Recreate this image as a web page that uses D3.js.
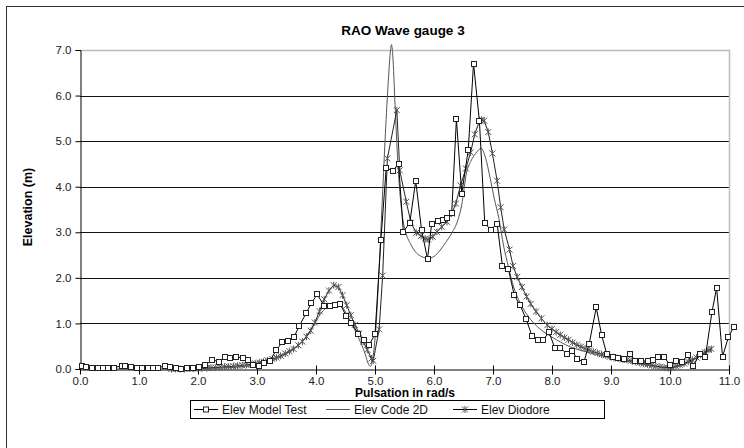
<!DOCTYPE html>
<html><head><meta charset="utf-8">
<script src="https://cdn.jsdelivr.net/npm/d3@7"></script>
<style>
body{margin:0;background:#fff;}
svg{display:block;}
text{font-family:"Liberation Sans",Arial,sans-serif;}
</style></head>
<body>
<svg id="c" width="744" height="448"></svg>
<script>
const title = "RAO Wave gauge 3";
const xTitle = "Pulsation in rad/s";
const yTitle = "Elevation (m)";
const xTicks = [0,1,2,3,4,5,6,7,8,9,10,11];
const yTicks = [0,1,2,3,4,5,6,7];
const seriesNames = ["Elev Model Test","Elev Code 2D","Elev Diodore"];

const modelX = [0.03,0.11,0.2,0.3,0.39,0.48,0.58,0.71,0.76,0.86,0.96,1.05,1.15,1.24,1.33,1.44,1.53,1.62,1.72,1.82,1.92,2.02,2.12,2.24,2.36,2.46,2.55,2.65,2.76,2.85,2.93,3.04,3.12,3.22,3.33,3.43,3.53,3.63,3.72,3.83,3.92,4.02,4.14,4.23,4.32,4.41,4.51,4.6,4.72,4.81,4.9,5.0,5.1,5.19,5.3,5.4,5.48,5.59,5.69,5.79,5.89,5.96,6.07,6.16,6.22,6.3,6.38,6.47,6.58,6.67,6.77,6.86,6.96,7.07,7.16,7.26,7.36,7.46,7.56,7.66,7.77,7.85,7.95,8.05,8.14,8.26,8.34,8.43,8.54,8.63,8.75,8.84,8.93,9.03,9.12,9.22,9.32,9.41,9.5,9.62,9.71,9.8,9.9,10.0,10.1,10.2,10.3,10.39,10.5,10.6,10.71,10.79,10.89,10.99,11.08];
const modelY = [0.07,0.05,0.03,0.03,0.03,0.03,0.03,0.07,0.07,0.04,0.03,0.03,0.03,0.03,0.03,0.07,0.05,0.02,0.01,0.02,0.03,0.05,0.08,0.2,0.16,0.27,0.24,0.27,0.24,0.2,0.09,0.07,0.14,0.18,0.42,0.59,0.61,0.71,0.95,1.22,1.44,1.64,1.38,1.38,1.4,1.42,1.17,1.0,0.77,0.64,0.53,0.76,2.83,4.41,4.35,4.5,3.01,3.21,4.13,3.04,2.42,3.18,3.25,3.28,3.32,3.42,5.48,3.85,4.8,6.7,5.44,3.21,3.05,3.19,2.26,2.2,1.62,1.4,1.1,0.73,0.64,0.64,0.81,0.45,0.47,0.32,0.4,0.22,0.15,0.55,1.35,0.75,0.32,0.27,0.24,0.22,0.33,0.18,0.17,0.18,0.2,0.26,0.26,0.09,0.17,0.15,0.31,0.06,0.32,0.27,1.24,1.78,0.27,0.7,0.92];

const codeX = [0.5,1.0,1.5,2.0,2.5,2.8,3.0,3.2,3.4,3.6,3.7,3.8,3.9,4.0,4.1,4.2,4.3,4.4,4.6,4.8,4.92,4.97,5.02,5.07,5.12,5.17,5.22,5.26,5.28,5.3,5.34,5.38,5.42,5.47,5.52,5.6,5.7,5.8,5.9,6.0,6.1,6.2,6.3,6.4,6.47,6.55,6.62,6.7,6.8,6.87,6.95,7.02,7.1,7.18,7.26,7.35,7.46,7.6,7.75,7.9,8.0,8.3,8.6,8.9,9.2,9.5,9.8,10.0,10.2,10.4,10.6,10.7];
const codeY = [0.0,0.0,0.0,0.01,0.03,0.06,0.1,0.16,0.26,0.42,0.52,0.66,0.84,1.05,1.25,1.36,1.41,1.4,1.0,0.45,0.06,0.3,1.0,2.2,3.6,5.0,6.2,6.95,7.12,6.9,5.8,4.7,3.9,3.3,3.0,2.75,2.55,2.46,2.43,2.47,2.6,2.78,2.98,3.25,3.6,4.3,4.55,4.72,4.84,4.65,4.2,3.75,3.3,2.7,2.25,1.8,1.45,1.15,0.93,0.78,0.7,0.49,0.37,0.27,0.19,0.11,0.05,0.03,0.08,0.2,0.35,0.42];

const diodX = [1.55,1.62,1.7,1.77,1.85,1.92,2.0,2.07,2.15,2.22,2.3,2.37,2.45,2.52,2.6,2.67,2.75,2.82,2.9,2.97,3.04,3.11,3.18,3.26,3.33,3.4,3.48,3.55,3.62,3.7,3.77,3.84,3.91,3.98,4.06,4.14,4.22,4.3,4.38,4.45,4.52,4.59,4.66,4.73,4.8,4.87,4.94,4.97,5.07,5.13,5.21,5.37,5.42,5.53,5.61,5.7,5.78,5.85,5.9,5.98,6.05,6.13,6.22,6.3,6.37,6.45,6.54,6.62,6.69,6.77,6.81,6.85,6.92,6.99,7.07,7.13,7.19,7.28,7.34,7.41,7.49,7.57,7.64,7.73,7.82,7.92,8.0,8.07,8.14,8.21,8.28,8.35,8.42,8.49,8.56,8.63,8.7,8.77,8.84,8.91,8.98,9.05,9.12,9.2,9.27,9.34,9.41,9.48,9.55,9.62,9.69,9.76,9.83,9.9,9.97,10.03,10.1,10.17,10.24,10.31,10.38,10.45,10.52,10.59,10.66,10.7];
const diodY = [0.0,0.0,0.0,0.0,0.01,0.01,0.01,0.02,0.02,0.03,0.03,0.04,0.05,0.05,0.06,0.07,0.08,0.09,0.1,0.12,0.14,0.16,0.19,0.22,0.25,0.29,0.34,0.39,0.44,0.52,0.6,0.71,0.84,1.02,1.27,1.53,1.72,1.84,1.8,1.62,1.4,1.18,0.97,0.78,0.6,0.42,0.23,0.18,0.87,2.05,4.62,5.68,4.36,3.67,3.21,2.99,2.92,2.86,2.84,2.9,3.01,3.12,3.23,3.41,3.63,4.03,4.4,4.75,5.15,5.44,5.47,5.45,5.2,4.73,4.13,3.55,3.06,2.62,2.26,2.02,1.8,1.59,1.43,1.26,1.11,0.96,0.88,0.81,0.75,0.69,0.64,0.58,0.53,0.49,0.45,0.41,0.38,0.35,0.32,0.3,0.27,0.25,0.23,0.21,0.2,0.18,0.16,0.14,0.12,0.1,0.08,0.06,0.05,0.03,0.02,0.03,0.06,0.09,0.12,0.16,0.2,0.25,0.31,0.37,0.42,0.44];

const svg = d3.select("#c");
const W = 744, H = 448;
const m = {left:80, right:729, top:50, bottom:369};
const x = d3.scaleLinear().domain([0,11]).range([m.left, m.right]);
const y = d3.scaleLinear().domain([0,7]).range([m.bottom, m.top]);

// chart area border
svg.append("rect").attr("x",6.5).attr("y",6.5).attr("width",W+20).attr("height",H+20)
  .attr("fill","#fff").attr("stroke","#333").attr("stroke-width",1);

// gridlines
svg.append("g").selectAll("line").data(yTicks.filter(d=>d>0 && d<7)).join("line")
  .attr("x1",m.left).attr("x2",m.right)
  .attr("y1",d=>Math.round(y(d))+0.5).attr("y2",d=>Math.round(y(d))+0.5)
  .attr("stroke","#111").attr("stroke-width",1);

// plot area border (top/right)
svg.append("path")
  .attr("d",`M${m.left},${m.top+0.5}H${m.right+0.5}V${m.bottom}`)
  .attr("fill","none").attr("stroke","#bbb").attr("stroke-width",1.5);

// y axis
const yAxis = d3.axisLeft(y).tickValues(yTicks).tickFormat(d3.format(".1f")).tickSize(5).tickPadding(4);
const gy = svg.append("g").attr("transform",`translate(${m.left+0.5},0)`).call(yAxis);
gy.select(".domain").attr("stroke","#000");
gy.selectAll(".tick line").attr("stroke","#000");
gy.selectAll("text").attr("font-size",11.5).attr("fill","#222").attr("font-family","'Liberation Sans',Arial,sans-serif");

// x axis (cross ticks)
const xAxis = d3.axisBottom(x).tickValues(xTicks).tickFormat(d3.format(".1f")).tickSizeInner(5).tickSizeOuter(0).tickPadding(2);
const gx = svg.append("g").attr("transform",`translate(0,${m.bottom+0.5})`).call(xAxis);
gx.select(".domain").attr("stroke","#000");
gx.selectAll(".tick line").attr("stroke","#000").attr("y1",-4).attr("y2",5);
gx.selectAll("text").attr("font-size",11.5).attr("fill","#222").attr("font-family","'Liberation Sans',Arial,sans-serif");

// titles
svg.append("text").attr("x",403).attr("y",35).attr("text-anchor","middle")
  .attr("font-size",13.5).attr("font-weight","bold").text(title);
svg.append("text").attr("x",405).attr("y",397).attr("text-anchor","middle")
  .attr("font-size",12).attr("font-weight","bold").text(xTitle);
svg.append("text").attr("transform","translate(32,207) rotate(-90)").attr("text-anchor","middle")
  .attr("font-size",12.5).attr("font-weight","bold").text(yTitle);

const zip = (xs,ys)=>xs.map((v,i)=>[v,ys[i]]);
const modelData = zip(modelX,modelY), codeData = zip(codeX,codeY), diodData = zip(diodX,diodY);
const line = d3.line().x(d=>x(d[0])).y(d=>y(d[1]));
const sline = d3.line().x(d=>x(d[0])).y(d=>y(d[1])).curve(d3.curveMonotoneX);

const starPath = "M-3,-3L3,3M-3,3L3,-3M0,-3.5V3.5";

// Code 2D
svg.append("path").datum(codeData).attr("d",sline).attr("fill","none").attr("stroke","#555").attr("stroke-width",1);
// Diodore
svg.append("path").datum(diodData).attr("d",line).attr("fill","none").attr("stroke","#222").attr("stroke-width",1);
svg.append("g").selectAll("path").data(diodData).join("path")
  .attr("transform",d=>`translate(${x(d[0])},${y(d[1])})`).attr("d",starPath)
  .attr("stroke","#555").attr("stroke-width",1).attr("fill","none");
// Model test
svg.append("path").datum(modelData).attr("d",line).attr("fill","none").attr("stroke","#000").attr("stroke-width",1);
svg.append("g").selectAll("rect").data(modelData).join("rect")
  .attr("x",d=>Math.round(x(d[0]))-2.5).attr("y",d=>Math.round(y(d[1]))-2.5).attr("width",5).attr("height",5)
  .attr("fill","#fff").attr("stroke","#222").attr("stroke-width",1);

// legend
const lg = svg.append("g");
lg.append("rect").attr("x",190.5).attr("y",400.5).attr("width",414).attr("height",18)
  .attr("fill","#fff").attr("stroke","#000");
const items = [{x0:194, tx:222},{x0:326, tx:354},{x0:453, tx:481}];
items.forEach((it,i)=>{
  const cy = 409;
  lg.append("line").attr("x1",it.x0).attr("x2",it.x0+24).attr("y1",cy+0.5).attr("y2",cy+0.5)
    .attr("stroke", i===1?"#555":"#000");
  if(i===0) lg.append("rect").attr("x",it.x0+9.5).attr("y",cy-2).attr("width",5).attr("height",5).attr("fill","#fff").attr("stroke","#222");
  if(i===2) lg.append("path").attr("transform",`translate(${it.x0+12},${cy+0.5})`).attr("d",starPath).attr("stroke","#555").attr("fill","none");
  lg.append("text").attr("x",it.tx).attr("y",cy+4.5).attr("font-size",12).attr("fill","#111").text(seriesNames[i]);
});
</script>
</body></html>
